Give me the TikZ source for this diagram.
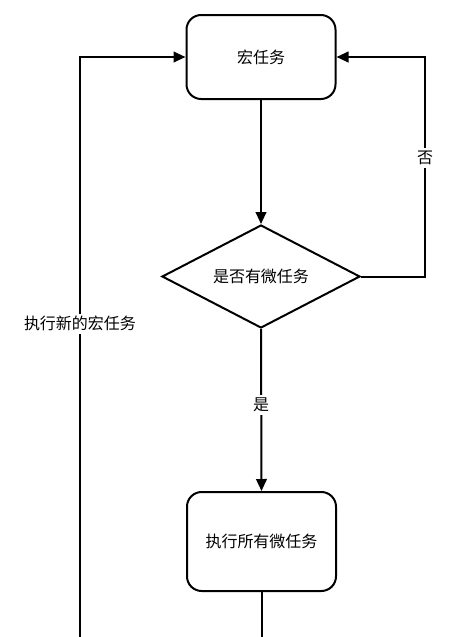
\documentclass[tikz,border=0pt]{standalone}
\usepackage{fontspec}
\setmainfont{Noto Sans CJK SC}
\usetikzlibrary{shapes.geometric,arrows.meta}

\begin{document}
\begin{tikzpicture}[x=0.75pt, y=-0.75pt,
        every node/.style={font=\fontsize{12}{14}\selectfont},
        task/.style={draw, line width=1.5pt, rounded corners=11pt, minimum width=111.75pt, inner sep=0pt},
        check/.style={draw, diamond, aspect=2, line width=1.5pt, inner sep=0pt, minimum width=148.5pt, minimum height=77.25pt},
        flow/.style={line width=1.5pt, -{Triangle[length=9pt, width=8pt]}},
        line/.style={line width=1.5pt},
        lbl/.style={fill=white, inner sep=2pt}]

        \useasboundingbox (0, 0) rectangle (454, 637);

        \draw (261, 57) node[task, minimum height=63pt] (macro) {宏任务};
        \draw (261, 276.5) node[check] (hasmicro) {是否有微任务};
        \draw (261.5, 541.5) node[task, minimum height=74.25pt] (micro) {执行所有微任务};

        \coordinate (rightturn) at (425, 276.5);
        \coordinate (righttop) at (425, 57);
        \coordinate (microend) at (261.5, 637);
        \coordinate (leftend) at (80, 637);
        \coordinate (lefttop) at (80, 57);

        \draw [flow] (macro) -- (hasmicro);
        \draw [flow] (hasmicro.south) -- node[lbl, pos=0.47] {是} (micro.north);
        \draw [flow] (hasmicro.east) -- (rightturn) -- node[lbl, pos=0.54] {否} (righttop) -- (macro.east);

        % next round
        \draw [line] (micro.south) -- (microend);
        \draw [flow] (leftend) -- node[lbl, pos=0.54] {执行新的宏任务} (lefttop) -- (macro.west);
\end{tikzpicture}
\end{document}
